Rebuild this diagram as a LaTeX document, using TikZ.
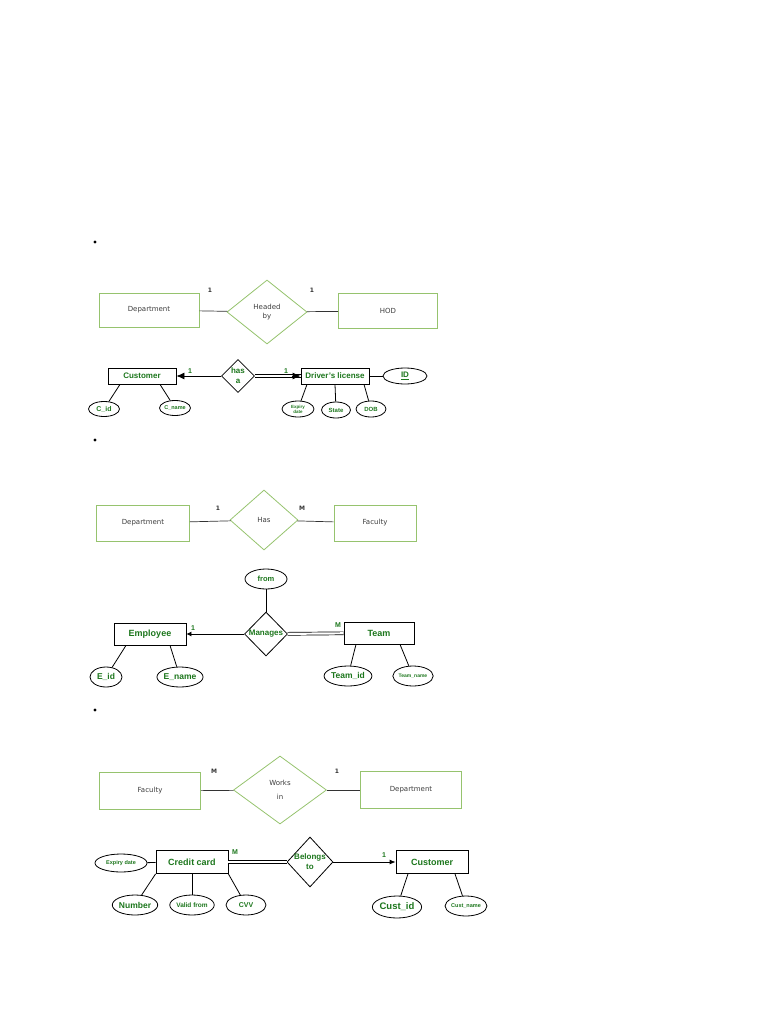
\documentclass[tikz,border=0pt]{standalone}
\usepackage{fontspec}
\setmainfont{Liberation Sans}
\newfontfamily\thinfont{DejaVu Sans}
\usetikzlibrary{shapes.geometric,arrows.meta}
\definecolor{ergreen}{RGB}{28,118,28}
\definecolor{palegreen}{RGB}{150,195,110}
\definecolor{thingray}{RGB}{60,60,60}

\begin{document}
\begin{tikzpicture}[x=1pt,y=-1pt,
  palebox/.style={draw=palegreen, line width=0.8pt, rectangle, text=thingray, font=\thinfont\fontsize{7}{8.5}\selectfont},
  palerel/.style={draw=palegreen, line width=0.8pt, diamond, inner sep=0pt, align=center, text=thingray, font=\thinfont\fontsize{7}{8.5}\selectfont},
  paleline/.style={draw=black!80, line width=0.7pt},
  palenum/.style={text=black!80, font=\thinfont\bfseries\fontsize{6}{7}\selectfont},
  ent/.style={draw, rectangle, line width=0.8pt, text=ergreen, font=\bfseries\fontsize{8}{9}\selectfont},
  attr/.style={draw, ellipse, inner sep=0pt, line width=0.8pt, text=ergreen, align=center, font=\bfseries\fontsize{7}{8}\selectfont},
  rel/.style={draw, diamond, inner sep=0pt, line width=0.8pt},
  reltext/.style={text=ergreen, align=center, font=\bfseries\fontsize{8}{10}\selectfont},
  num/.style={text=ergreen, font=\bfseries\fontsize{7}{8}\selectfont},
  link/.style={line width=0.8pt},
  dbl/.style={double, double distance=2.2pt, line width=0.7pt},
  tip/.style={-{Latex[length=8pt,width=7pt]}, line width=0.8pt},
  bullet/.style={circle, fill, inner sep=0pt, minimum size=3.2pt}]
\useasboundingbox (0,0) rectangle (768,1024);

\node[bullet] (b1) at (95,242) {};
\node[bullet] (b2) at (95,440) {};
\node[bullet] (b3) at (95,710) {};

% Department headed by HOD
\node[palebox, minimum width=100pt, minimum height=34pt] (dept1) at (149,310) {Department};
\node[palerel, minimum width=80pt, minimum height=64pt] (headed) at (267,312) {Headed\\by};
\node[palebox, minimum width=99pt, minimum height=35pt] (hod) at (388,311) {HOD};
\draw[paleline] (dept1) -- (headed);
\draw[paleline] (headed) -- (hod);
\node[palenum] (n1) at (210,290) {1};
\node[palenum] (n2) at (312,290) {1};

\node[ent, minimum width=68pt, minimum height=16pt] (cust1) at (142,376) {Customer};
\node[rel, minimum width=33pt, minimum height=33pt, label={[reltext]center:has\\a}] (hasa) at (238,376) {};
\node[ent, minimum width=68pt, minimum height=16pt] (dl) at (335,376) {Driver's license};
\node[attr, minimum width=44pt, minimum height=16pt, font=\bfseries\fontsize{8}{9}\selectfont] (id) at (405,376) {\underline{ID}};
\node[attr, minimum width=31pt, minimum height=15pt] (cid) at (104,409) {C\_id};
\node[attr, minimum width=31pt, minimum height=15pt, font=\bfseries\fontsize{5.5}{6}\selectfont] (cname) at (175,408) {C\_name};
\node[attr, minimum width=32pt, minimum height=16pt, font=\bfseries\fontsize{4.5}{5}\selectfont] (exp1) at (298,409) {Expiry\\date};
\node[attr, minimum width=29pt, minimum height=16pt, font=\bfseries\fontsize{6}{7}\selectfont] (state) at (336,410) {State};
\node[attr, minimum width=30pt, minimum height=16pt, font=\bfseries\fontsize{6}{7}\selectfont] (dob) at (371,409) {DOB};
\draw[tip] (hasa) -- (cust1);
\draw[dbl] (hasa) -- (dl);
\draw[tip] ([xshift=-9pt]dl.west) -- (dl.west);
\draw[link] (dl) -- (id);
\draw[link] ([xshift=-22pt]cust1.south) -- (cid);
\draw[link] ([xshift=18pt]cust1.south) -- (cname);
\draw[link] ([xshift=-28pt]dl.south) -- (exp1);
\draw[link] (dl.south) -- (state);
\draw[link] ([xshift=29pt]dl.south) -- (dob);
\node[num] (n3) at (190,371) {1};
\node[num] (n4) at (286,371) {1};

% Department has Faculty
\node[palebox, minimum width=93pt, minimum height=36pt] (dept2) at (143,523) {Department};
\node[palerel, minimum width=68pt, minimum height=60pt] (has) at (264,520) {Has};
\node[palebox, minimum width=82pt, minimum height=36pt] (fac2) at (375,523) {Faculty};
\draw[paleline] (dept2) -- (has);
\draw[paleline] (has) -- (fac2);
\node[palenum] (n5) at (218,508) {1};
\node[palenum] (n6) at (302,508) {M};

\node[attr, minimum width=42pt, minimum height=20pt, font=\bfseries\fontsize{7.5}{8}\selectfont] (from) at (266,579) {from};
\node[rel, minimum width=43pt, minimum height=44pt, label={[reltext]center:Manages}] (manages) at (266,634) {};
\node[ent, minimum width=72pt, minimum height=22pt, font=\bfseries\fontsize{9}{10}\selectfont] (emp) at (150,634) {Employee};
\node[ent, minimum width=70pt, minimum height=22pt, font=\bfseries\fontsize{9}{10}\selectfont] (team) at (379,633) {Team};
\node[attr, minimum width=32pt, minimum height=20pt, font=\bfseries\fontsize{8.5}{9}\selectfont] (eid) at (106,677) {E\_id};
\node[attr, minimum width=40pt, minimum height=20pt, font=\bfseries\fontsize{8.5}{9}\selectfont] (ename) at (180,677) {E\_name};
\node[attr, minimum width=42pt, minimum height=20pt, font=\bfseries\fontsize{8.5}{9}\selectfont] (teamid) at (348,676) {Team\_id};
\node[attr, minimum width=38pt, minimum height=20pt, font=\bfseries\fontsize{5}{6}\selectfont] (teamname) at (413,676) {Team\_name};
\draw[link] (from) -- (manages);
\draw[-{Latex[length=5pt,width=5pt]}, line width=0.8pt] (manages) -- (emp);
\draw[dbl] (manages) -- (team);
\draw[link] ([xshift=-24pt]emp.south) -- (eid);
\draw[link] ([xshift=20pt]emp.south) -- (ename);
\draw[link] ([xshift=-23pt]team.south) -- (teamid);
\draw[link] ([xshift=21pt]team.south) -- (teamname);
\node[num] (n7) at (193,628) {1};
\node[num] (n8) at (338,625) {M};

% Faculty works in Department
\node[palebox, minimum width=101pt, minimum height=37pt] (fac3) at (150,791) {Faculty};
\node[palerel, minimum width=93pt, minimum height=68pt] (works) at (280,790) {Works\\[5pt]in};
\node[palebox, minimum width=101pt, minimum height=37pt] (dept3) at (411,790) {Department};
\draw[paleline] (fac3) -- (works);
\draw[paleline] (works) -- (dept3);
\node[palenum] (n9) at (214,771) {M};
\node[palenum] (n10) at (337,771) {1};

\node[ent, minimum width=72pt, minimum height=23pt, font=\bfseries\fontsize{9}{10}\selectfont] (cc) at (192,862) {Credit card};
\node[rel, minimum width=46pt, minimum height=50pt, label={[reltext]center:Belongs\\to}] (belongs) at (310,862) {};
\node[ent, minimum width=72pt, minimum height=23pt, font=\bfseries\fontsize{9}{10}\selectfont] (cust3) at (432,862) {Customer};
\node[attr, minimum width=52pt, minimum height=18pt, font=\bfseries\fontsize{5.5}{6}\selectfont] (exp3) at (121,863) {Expiry date};
\node[attr, minimum width=42pt, minimum height=20pt, font=\bfseries\fontsize{8.5}{9}\selectfont] (number) at (135,905) {Number};
\node[attr, minimum width=44pt, minimum height=20pt, font=\bfseries\fontsize{6.5}{7}\selectfont] (valid) at (192,905) {Valid from};
\node[attr, minimum width=40pt, minimum height=20pt] (cvv) at (246,905) {CVV};
\node[attr, minimum width=40pt, minimum height=22pt, font=\bfseries\fontsize{9.5}{10}\selectfont] (custid) at (397,907) {Cust\_id};
\node[attr, minimum width=38pt, minimum height=20pt, font=\bfseries\fontsize{5.5}{6}\selectfont] (custname) at (466,906) {Cust\_name};
\draw[dbl] (cc) -- (belongs);
\draw[-{Latex[length=6pt,width=5pt]}, line width=0.8pt] (belongs) -- (cust3);
\draw[link] (exp3) -- (cc);
\draw[link] (cc.south west) -- (number);
\draw[link] (cc.south) -- (valid);
\draw[link] (cc.south east) -- (cvv);
\draw[link] ([xshift=-24pt]cust3.south) -- (custid);
\draw[link] ([xshift=23pt]cust3.south) -- (custname);
\node[num] (n11) at (235,852) {M};
\node[num] (n12) at (384,855) {1};
\end{tikzpicture}
\end{document}
